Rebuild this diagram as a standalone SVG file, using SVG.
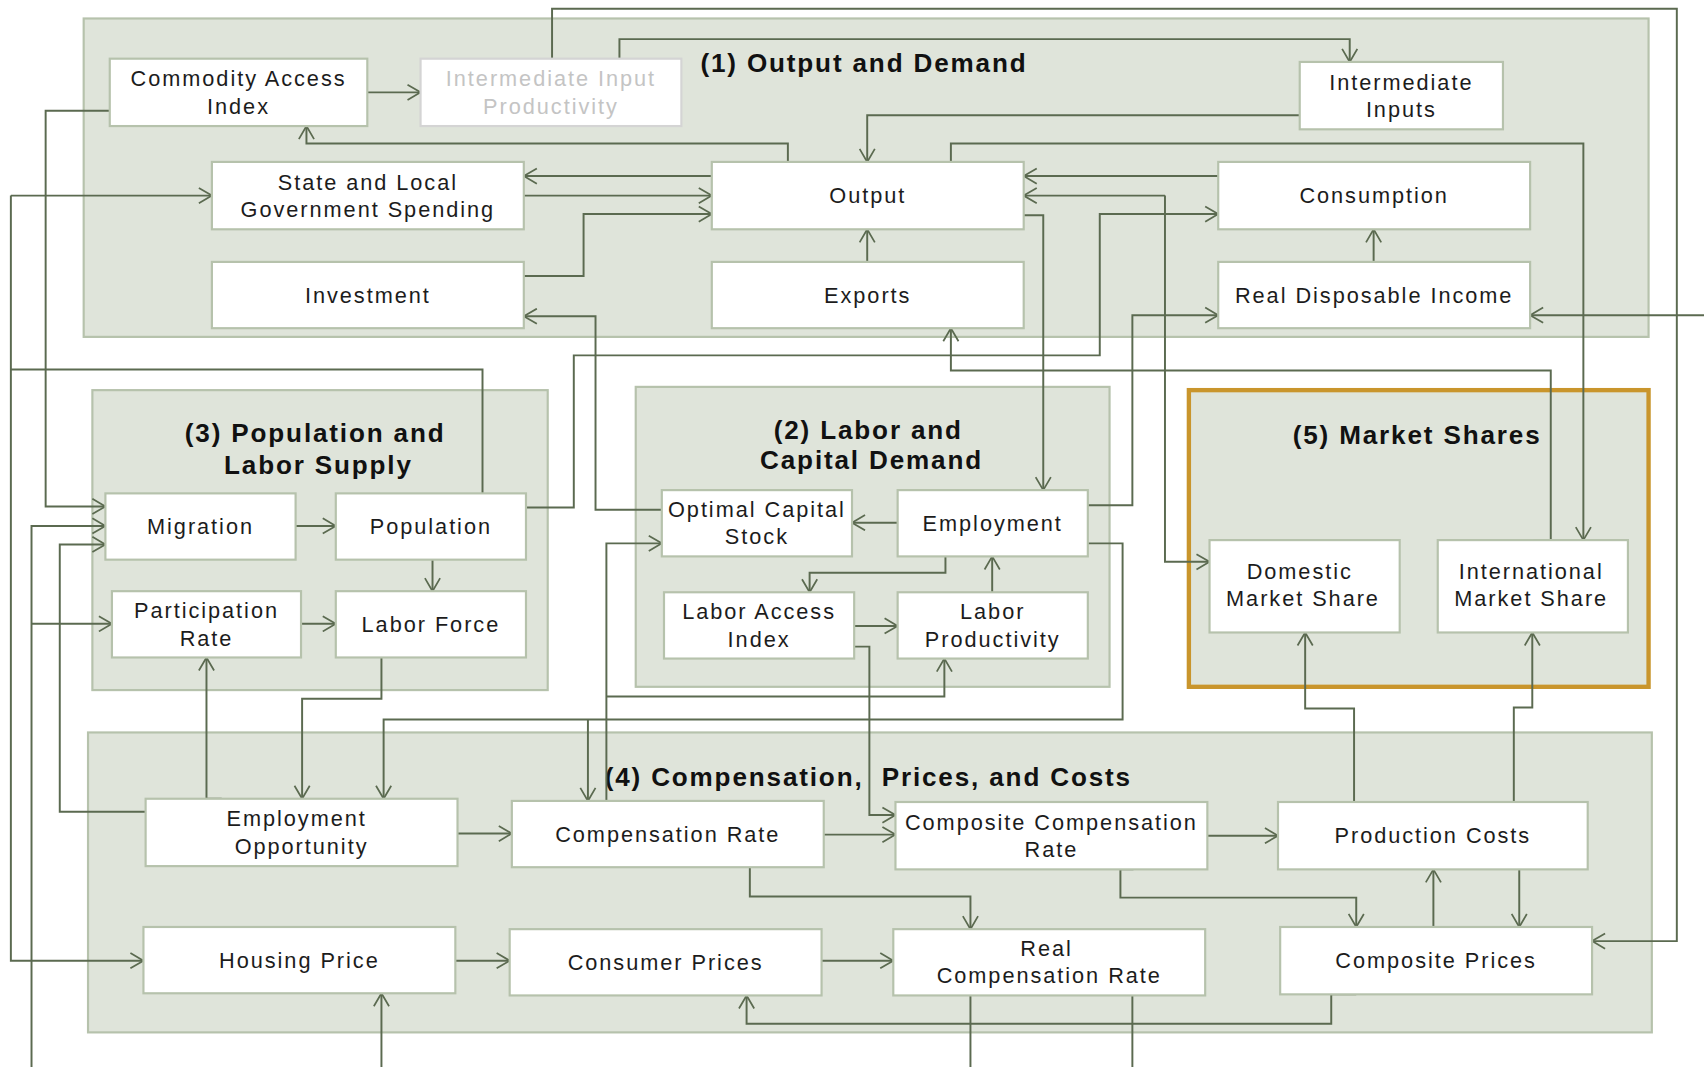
<svg xmlns="http://www.w3.org/2000/svg" width="1704" height="1067" viewBox="0 0 1704 1067">
<style>
.grp{fill:#dfe4da;stroke:#b6c2ac;stroke-width:2}
.gold{fill:#dfe4da;stroke:#c9952c;stroke-width:4}
.box{fill:#ffffff;stroke:#b6c2ac;stroke-width:2}
.boxg{fill:#ffffff;stroke:#d4d4d4;stroke-width:2}
.t{font-family:"Liberation Sans",Arial,sans-serif;font-size:20px;letter-spacing:1.8px;fill:#1c1c1c;text-anchor:middle}
.tg{fill:#c4c4c4}
.h{font-family:"Liberation Sans",Arial,sans-serif;font-size:24px;font-weight:bold;letter-spacing:1.7px;fill:#111111;text-anchor:middle}
.c path{fill:none;stroke:#5b6a50;stroke-width:1.8}
.a{marker-end:url(#arr)}
</style>
<defs>
<marker id="arr" markerUnits="userSpaceOnUse" markerWidth="16" markerHeight="16" viewBox="0 0 16 16" refX="14" refY="8" orient="auto">
<path d="M2,1 L14,8 L2,15" fill="none" stroke="#5b6a50" stroke-width="1.6"/>
</marker>
</defs>
<g transform="scale(1.08673)">
<g id="group1"><rect class="grp" x="77" y="17" width="1440" height="293"/><text class="h" x="795" y="66">(1) Output and Demand</text></g>
<g id="group3"><rect class="grp" x="85" y="359" width="419" height="276"/><text class="h" x="290" y="407">(3) Population and</text><text class="h" x="293" y="436">Labor Supply</text></g>
<g id="group2"><rect class="grp" x="585" y="356" width="436" height="276"/><text class="h" x="799" y="404">(2) Labor and</text><text class="h" x="802" y="432">Capital Demand</text></g>
<g id="group5"><rect class="gold" x="1094" y="359" width="423" height="273"/><text class="h" x="1304" y="409">(5) Market Shares</text></g>
<g id="group4"><rect class="grp" x="81" y="674" width="1439" height="276"/><text class="h" x="799" y="723">(4) Compensation,&#160; Prices, and Costs</text></g>

<g class="c" id="connectors">
<path class="a" d="M338,85 H387"/>
<path class="a" d="M508,54 V8 H1543 V866 H1465"/>
<path class="a" d="M570,54 V36 H1242 V57"/>
<path class="a" d="M1196,106 H798 V149"/>
<path class="a" d="M725,149 V132 H282 V116"/>
<path class="a" d="M655,162 H482"/>
<path class="a" d="M482,180 H655"/>
<path class="a" d="M482,254 H537 V197 H655"/>
<path class="a" d="M798,241 V211"/>
<path class="a" d="M1121,162 H942"/>
<path class="a" d="M1072,180 H942"/>
<path class="a" d="M1072,180 V517 H1113"/>
<path class="a" d="M942,198 H960 V451"/>
<path class="a" d="M875,149 V132 H1457 V497"/>
<path class="a" d="M484,467 H528 V327 H1012 V197 H1121"/>
<path class="a" d="M1411,497 H1427 V341 H875 V302"/>
<path class="a" d="M1001,465 H1042 V290 H1121"/>
<path class="a" d="M1568,290 H1408"/>
<path class="a" d="M1264,241 V211"/>
<path class="a" d="M609,469 H548 V291 H482"/>
<path class="a" d="M272,484 H309"/>
<path class="a" d="M398,515 V544"/>
<path class="a" d="M277,574 H309"/>
<path class="a" d="M101,102 H42 V466 H97"/>
<path class="a" d="M29,982 V484 H97"/>
<path class="a" d="M29,574 H103"/>
<path class="a" d="M134,747 H55 V501 H97"/>
<path class="a" d="M204,735 H190 V605"/>
<path class="a" d="M351,605 V643 H278 V735"/>
<path class="a" d="M1001,500 H1033 V662 H353 V735"/>
<path class="a" d="M541,662 V737"/>
<path class="a" d="M616,737 H558 V500 H609"/>
<path class="a" d="M558,641 H869 V606"/>
<path class="a" d="M870,512 V527 H745 V545"/>
<path class="a" d="M913,545 V512"/>
<path class="a" d="M826,481 H784"/>
<path class="a" d="M786,576 H826"/>
<path class="a" d="M786,595 H800 V750 H824"/>
<path class="a" d="M421,767 H471"/>
<path class="a" d="M758,768 H824"/>
<path class="a" d="M1111,769 H1176"/>
<path class="a" d="M1246,738 V652 H1201 V582"/>
<path class="a" d="M1393,738 V651 H1410 V582"/>
<path class="a" d="M690,798 V825 H893 V855"/>
<path class="a" d="M1043,800 H1031 V826 H1248 V853"/>
<path class="a" d="M1319,853 V800"/>
<path class="a" d="M1398,800 V853"/>
<path class="a" d="M419,884 H469"/>
<path class="a" d="M756,884 H822"/>
<path class="a" d="M1248,915 H1225 V942 H687 V916"/>
<path class="a" d="M351,982 V914"/>
<path d="M893,916 V982"/>
<path d="M1042,916 V982"/>
<path d="M10,340 H444 V454"/>
<path class="a" d="M10,180 H195"/>
<path class="a" d="M10,180 V884 H132"/>
</g>

<g id="n-cai"><rect class="box" x="101" y="54" width="237" height="62"/><text class="t" x="219.5" y="79.5">Commodity Access</text><text class="t" x="219.5" y="104.5">Index</text></g>
<g id="n-iip"><rect class="boxg" x="387" y="54" width="240" height="62"/><text class="t tg" x="507" y="79.5">Intermediate Input</text><text class="t tg" x="507" y="104.5">Productivity</text></g>
<g id="n-ii"><rect class="box" x="1196" y="57" width="187" height="62"/><text class="t" x="1289.5" y="82.5">Intermediate</text><text class="t" x="1289.5" y="107.5">Inputs</text></g>
<g id="n-slg"><rect class="box" x="195" y="149" width="287" height="62"/><text class="t" x="338.5" y="174.5">State and Local</text><text class="t" x="338.5" y="199.5">Government Spending</text></g>
<g id="n-out"><rect class="box" x="655" y="149" width="287" height="62"/><text class="t" x="798.5" y="187">Output</text></g>
<g id="n-con"><rect class="box" x="1121" y="149" width="287" height="62"/><text class="t" x="1264.5" y="187">Consumption</text></g>
<g id="n-inv"><rect class="box" x="195" y="241" width="287" height="61"/><text class="t" x="338.5" y="278.5">Investment</text></g>
<g id="n-exp"><rect class="box" x="655" y="241" width="287" height="61"/><text class="t" x="798.5" y="278.5">Exports</text></g>
<g id="n-rdi"><rect class="box" x="1121" y="241" width="287" height="61"/><text class="t" x="1264.5" y="278.5">Real Disposable Income</text></g>
<g id="n-mig"><rect class="box" x="97" y="454" width="175" height="61"/><text class="t" x="184.5" y="491.5">Migration</text></g>
<g id="n-pop"><rect class="box" x="309" y="454" width="175" height="61"/><text class="t" x="396.5" y="491.5">Population</text></g>
<g id="n-par"><rect class="box" x="103" y="544" width="174" height="61"/><text class="t" x="190" y="569">Participation</text><text class="t" x="190" y="594">Rate</text></g>
<g id="n-lf"><rect class="box" x="309" y="544" width="175" height="61"/><text class="t" x="396.5" y="581.5">Labor Force</text></g>
<g id="n-ocs"><rect class="box" x="609" y="451" width="175" height="61"/><text class="t" x="696.5" y="476">Optimal Capital</text><text class="t" x="696.5" y="501">Stock</text></g>
<g id="n-emp"><rect class="box" x="826" y="451" width="175" height="61"/><text class="t" x="913.5" y="488.5">Employment</text></g>
<g id="n-lai"><rect class="box" x="611" y="545" width="175" height="61"/><text class="t" x="698.5" y="570">Labor Access</text><text class="t" x="698.5" y="595">Index</text></g>
<g id="n-lp"><rect class="box" x="826" y="545" width="175" height="61"/><text class="t" x="913.5" y="570">Labor</text><text class="t" x="913.5" y="595">Productivity</text></g>
<g id="n-dms"><rect class="box" x="1113" y="497" width="175" height="85"/><text class="t" x="1196" y="533">Domestic</text><text class="t" x="1199" y="558">Market Share</text></g>
<g id="n-ims"><rect class="box" x="1323" y="497" width="175" height="85"/><text class="t" x="1409" y="533">International</text><text class="t" x="1409" y="558">Market Share</text></g>
<g id="n-eo"><rect class="box" x="134" y="735" width="287" height="62"/><text class="t" x="273" y="760.5">Employment</text><text class="t" x="277.5" y="785.5">Opportunity</text></g>
<g id="n-cr"><rect class="box" x="471" y="737" width="287" height="61"/><text class="t" x="614.5" y="774.5">Compensation Rate</text></g>
<g id="n-ccr"><rect class="box" x="824" y="738" width="287" height="62"/><text class="t" x="967.5" y="763.5">Composite Compensation</text><text class="t" x="967.5" y="788.5">Rate</text></g>
<g id="n-pc"><rect class="box" x="1176" y="738" width="285" height="62"/><text class="t" x="1318.5" y="776">Production Costs</text></g>
<g id="n-hp"><rect class="box" x="132" y="853" width="287" height="61"/><text class="t" x="275.5" y="890.5">Housing Price</text></g>
<g id="n-cp"><rect class="box" x="469" y="855" width="287" height="61"/><text class="t" x="612.5" y="892.5">Consumer Prices</text></g>
<g id="n-rcr"><rect class="box" x="822" y="855" width="287" height="61"/><text class="t" x="963" y="880">Real</text><text class="t" x="965.5" y="905">Compensation Rate</text></g>
<g id="n-comp"><rect class="box" x="1178" y="853" width="287" height="62"/><text class="t" x="1321.5" y="891">Composite Prices</text></g>
</g>
</svg>
